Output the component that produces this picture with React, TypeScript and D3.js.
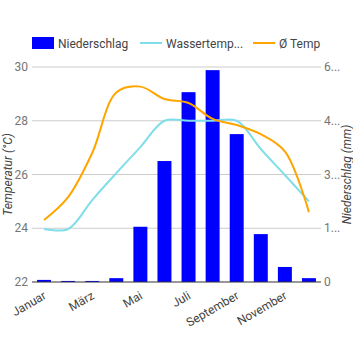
import React, { useEffect, useRef } from 'react';
import * as d3 from 'd3';

const months = ['Januar', 'Februar', 'März', 'April', 'Mai', 'Juni', 'Juli', 'August', 'September', 'Oktober', 'November', 'Dezember'];
const niederschlag = [0.06, 0.03, 0.03, 0.11, 1.58, 3.46, 5.43, 6.06, 4.23, 1.37, 0.43, 0.11];
const wassertemp = [23.97, 23.97, 25.05, 26.05, 27.02, 28.0, 28.0, 28.0, 28.0, 26.95, 25.98, 25.0];
const temp = [24.31, 25.16, 26.8, 29.05, 29.27, 28.81, 28.66, 28.07, 27.84, 27.5, 26.86, 24.6];
const tempTicks = [22, 24, 26, 28, 30];
const rainTicks = [0, 1.5375, 3.075, 4.6125, 6.15];
const rainTickLabels = ['0', '1...', '3...', '4...', '6...'];

const W = 353;
const H = 350;
const margin = { top: 67, right: 32, bottom: 68, left: 32 };
const font = 'Roboto, Arial, sans-serif';

const App = () => {
  const svgRef = useRef(null);

  useEffect(() => {
    const svg = d3.select(svgRef.current);
    svg.selectAll('*').remove();

    const x = d3.scaleBand()
      .domain(months)
      .range([margin.left, W - margin.right])
      .paddingInner(0.42)
      .paddingOuter(0.21);
    const cx = (m) => x(m) + x.bandwidth() / 2;

    const yT = d3.scaleLinear().domain([22, 30]).range([H - margin.bottom, margin.top]);
    const yR = d3.scaleLinear().domain([0, 6.15]).range([H - margin.bottom, margin.top]);

    // gridlines
    svg.append('g')
      .selectAll('line')
      .data(tempTicks.slice(1))
      .join('line')
      .attr('x1', margin.left)
      .attr('x2', W - margin.right)
      .attr('y1', d => yT(d))
      .attr('y2', d => yT(d))
      .attr('stroke', '#cccccc');

    // left labels
    svg.append('g')
      .selectAll('text')
      .data(tempTicks)
      .join('text')
      .attr('x', margin.left - 4)
      .attr('y', d => yT(d) + 4)
      .attr('text-anchor', 'end')
      .attr('font-size', 12)
      .attr('fill', '#757575')
      .attr('font-family', font)
      .text(d => d);

    // right labels
    svg.append('g')
      .selectAll('text')
      .data(rainTicks)
      .join('text')
      .attr('x', W - margin.right + 3)
      .attr('y', d => yR(d) + 4)
      .attr('font-size', 12)
      .attr('fill', '#757575')
      .attr('font-family', font)
      .text((d, i) => rainTickLabels[i]);

    // bars
    svg.append('g')
      .selectAll('rect')
      .data(niederschlag)
      .join('rect')
      .attr('x', (d, i) => x(months[i]))
      .attr('width', x.bandwidth())
      .attr('y', d => yR(d))
      .attr('height', d => yR(0) - yR(d))
      .attr('fill', '#0000ff');

    // baseline
    svg.append('line')
      .attr('x1', margin.left)
      .attr('x2', W - margin.right)
      .attr('y1', yT(22))
      .attr('y2', yT(22))
      .attr('stroke', '#333333');

    const line = d3.line()
      .x((d, i) => cx(months[i]))
      .y(d => yT(d))
      .curve(d3.curveCatmullRom.alpha(0.5));

    svg.append('path')
      .attr('d', line(wassertemp))
      .attr('fill', 'none')
      .attr('stroke', '#80deea')
      .attr('stroke-width', 2);

    svg.append('path')
      .attr('d', line(temp))
      .attr('fill', 'none')
      .attr('stroke', '#ffa500')
      .attr('stroke-width', 2);

    // x labels
    svg.append('g')
      .selectAll('text')
      .data(months.filter((m, i) => i % 2 === 0))
      .join('text')
      .attr('transform', m => `translate(${cx(m) + 3},${H - margin.bottom + 16}) rotate(-30)`)
      .attr('text-anchor', 'end')
      .attr('font-size', 12)
      .attr('fill', '#444444')
      .attr('font-family', font)
      .text(m => m);

    // axis titles
    svg.append('text')
      .attr('transform', `translate(12,${(margin.top + H - margin.bottom) / 2}) rotate(-90)`)
      .attr('text-anchor', 'middle')
      .attr('font-size', 12)
      .attr('font-style', 'italic')
      .attr('fill', '#444444')
      .attr('font-family', font)
      .text('Temperatur (°C)');

    svg.append('text')
      .attr('transform', `translate(351,${(margin.top + H - margin.bottom) / 2}) rotate(-90)`)
      .attr('text-anchor', 'middle')
      .attr('font-size', 12)
      .attr('font-style', 'italic')
      .attr('fill', '#444444')
      .attr('font-family', font)
      .text('Niederschlag (mm)');

    // legend
    const lg = svg.append('g').attr('font-family', font).attr('font-size', 12).attr('fill', '#444444');
    lg.append('rect').attr('x', 32).attr('y', 37).attr('width', 22).attr('height', 12).attr('fill', '#0000ff');
    lg.append('text').attr('x', 58).attr('y', 47.5).text('Niederschlag');
    lg.append('line').attr('x1', 140).attr('x2', 162).attr('y1', 43).attr('y2', 43).attr('stroke', '#80deea').attr('stroke-width', 2);
    lg.append('text').attr('x', 166).attr('y', 47.5).text('Wassertemp...');
    lg.append('line').attr('x1', 253).attr('x2', 275).attr('y1', 43).attr('y2', 43).attr('stroke', '#ffa500').attr('stroke-width', 2);
    lg.append('text').attr('x', 279).attr('y', 47.5).text('Ø Temp');
  }, []);

  return (
    <svg ref={svgRef} width={W} height={H} style={{ position: 'absolute', left: 0, top: 0 }} />
  );
};

export default App;
